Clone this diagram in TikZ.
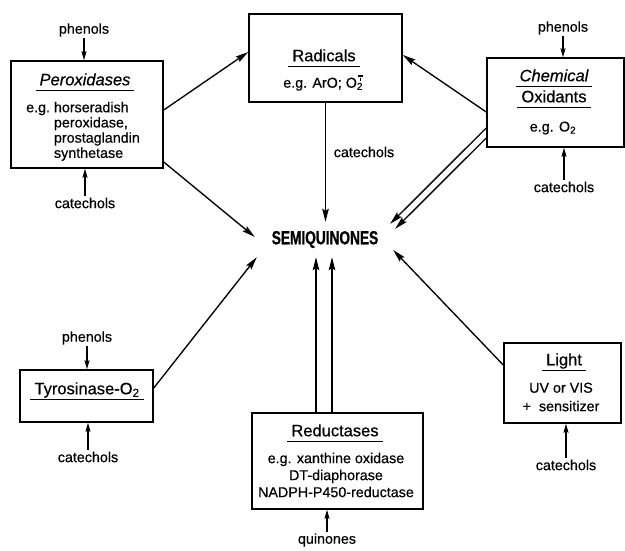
\documentclass[tikz,border=0pt]{standalone}
\usepackage{fontspec}
\setmainfont{Liberation Sans}[FakeBold=0.5]
\newfontfamily\semifont[FakeStretch=0.72,FakeBold=0.8]{Liberation Sans}
\usetikzlibrary{arrows.meta,calc}
\newcommand\ttlul[1]{\underline{\kern4pt#1\vphantom{y}\kern4pt}}
\newcommand\superox{O\textsubscript{2}\kern-0.38em\makebox[0pt][l]{\raisebox{0.78em}{\rule{0.4em}{0.08em}}}\raisebox{0.5em}{\kern0.15em\rule{0.1em}{0.2em}}\kern0.25em}
\tikzset{
 box/.style={draw,line width=1.5pt,inner sep=0pt},
 lbl/.style={font=\fontsize{14.3}{15}\selectfont,inner sep=1.5pt},
 ttl/.style={font=\fontsize{16.5}{18}\selectfont,inner sep=0pt},
 body/.style={font=\fontsize{14.3}{16}\selectfont,align=center,inner sep=0pt},
 arr/.style={line width=1.35pt,-{Stealth[length=13pt,width=6.5pt,inset=2pt]}},
 sarr/.style={line width=1.35pt,-{Stealth[length=9pt,width=5pt,inset=1.5pt]}},
}
\begin{document}
\begin{tikzpicture}[x=1pt,y=-1pt]
\useasboundingbox (0,0) rectangle (625,550);
% boxes
\node[box,minimum width=152pt,minimum height=107pt] (perox) at (87,114.5) {};
\node[box,minimum width=153pt,minimum height=88pt] (rad) at (325.5,58) {};
\node[box,minimum width=137pt,minimum height=89pt] (chem) at (555.5,102.5) {};
\node[box,minimum width=133pt,minimum height=52pt] (tyr) at (86.5,396) {};
\node[box,minimum width=171pt,minimum height=96pt] (red) at (337.5,461) {};
\node[box,minimum width=117pt,minimum height=80pt] (light) at (562.5,383) {};
\node[minimum width=140pt,minimum height=35pt,inner sep=0pt,font=\semifont\bfseries\fontsize{19}{21}\selectfont] (semi) at (325,239.5) {SEMIQUINONES};
% box texts
\node[ttl] (t1) at (85,82) {\ttlul{\itshape Peroxidases}};
\node[body,font=\fontsize{14.3}{15.2}\selectfont] (b1) at (83,132) {\begin{tabular}{@{}l@{\ }l@{}}e.g. & horseradish\\ & peroxidase,\\ & prostaglandin\\ & synthetase\end{tabular}};
\node[ttl] (t2) at (324,58) {\ttlul{Radicals}};
\node[body] (b2) at (324,83) {e.g. ArO; \superox};
\node[ttl] (t3a) at (554,78) {\ttlul{\itshape Chemical}};
\node[ttl] (t3b) at (554,99) {\ttlul{Oxidants}};
\node[body] (b3) at (553,128) {e.g. O\textsubscript{2}};
\node[ttl] (t4) at (87,391) {\ttlul{Tyrosinase-O\textsubscript{2}}};
\node[ttl] (t5) at (335,433) {\ttlul{Reductases}};
\node[body,font=\fontsize{14.3}{17}\selectfont] (b5) at (336,475) {e.g. xanthine oxidase\\DT-diaphorase\\NADPH-P450-reductase};
\node[ttl] (t6) at (564,362) {\ttlul{Light}};
\node[body,font=\fontsize{14.3}{18.5}\selectfont] (b6) at (561,397) {UV or VIS\\+\ \ sensitizer};
% labels
\node[lbl] (ph1) at (84,30) {phenols};
\node[lbl] (ca1) at (85,203) {catechols};
\node[lbl] (ca2) at (364,152) {catechols};
\node[lbl] (ph3) at (563,28) {phenols};
\node[lbl] (ca3) at (564,187) {catechols};
\node[lbl] (ph4) at (87,338) {phenols};
\node[lbl] (ca4) at (88,457) {catechols};
\node[lbl] (qu) at (327,540) {quinones};
\node[lbl] (ca5) at (566,465) {catechols};
% short arrows
\draw[sarr] (ph1.south) -- (ph1.south |- perox.north);
\draw[sarr] (ca1.north) -- (ca1.north |- perox.south);
\draw[sarr] (ph3.south) -- (ph3.south |- chem.north);
\draw[sarr] (ca3.north) -- (ca3.north |- chem.south);
\draw[sarr] (ph4.south) -- (ph4.south |- tyr.north);
\draw[sarr] (ca4.north) -- (ca4.north |- tyr.south);
\draw[sarr] (qu.north) -- (qu.north |- red.south);
\draw[sarr] (ca5.north) -- (ca5.north |- light.south);
% main arrows
\draw[arr] ([yshift=4.5pt]perox.east) -- ([yshift=6pt]rad.west);
\draw[arr] ([yshift=-47.5pt]perox.east) -- ([yshift=2.5pt]semi.west);
\draw[arr] (rad.south) -- (rad.south |- semi.north);
\draw[arr] ([yshift=-9.5pt]chem.west) -- ([yshift=3pt]rad.east);
\draw[arr] ([yshift=-25.5pt]chem.west) -- ([xshift=-5pt,yshift=-2pt]semi.north east);
\draw[arr] ([yshift=-35.5pt]chem.west) -- ([yshift=-7pt]semi.north east);
\draw[arr] ([yshift=8pt]tyr.east) -- ([xshift=2pt]semi.south west);
\coordinate (r1) at ([xshift=-21.5pt]red.north);
\coordinate (r2) at ([xshift=-5.5pt]red.north);
\draw[arr] (r1) -- (r1 |- semi.south);
\draw[arr] (r2) -- (r2 |- semi.south);
\draw[arr] ([yshift=18pt]light.west) -- ([xshift=-2pt,yshift=-10.5pt]semi.east);
\end{tikzpicture}
\end{document}
